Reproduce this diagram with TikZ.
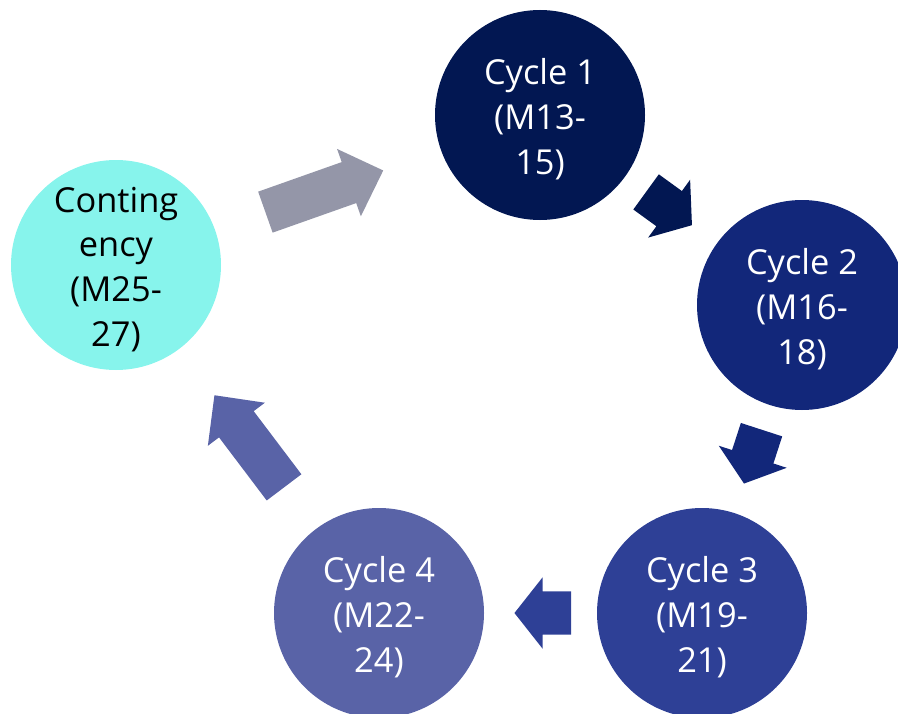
\documentclass[tikz,border=0pt]{standalone}
\usepackage{fontspec}
\setmainfont{Open Sans}
\usetikzlibrary{shapes.arrows}

\definecolor{cycA}{RGB}{2,23,82}
\definecolor{cycB}{RGB}{18,39,122}
\definecolor{cycC}{RGB}{46,64,150}
\definecolor{cycD}{RGB}{89,99,167}
\definecolor{contcol}{RGB}{135,244,236}
\definecolor{arrgray}{RGB}{148,150,168}

\begin{document}
\begin{tikzpicture}[
  x=0.75pt, y=-0.75pt,
  phase/.style={circle, minimum size=157.5pt, inner sep=0pt, outer sep=0pt},
  phasetext/.style={align=center, inner sep=0pt, yshift=-3.2pt, font=\fontsize{25.8pt}{33.5pt}\selectfont},
  blockarrow/.style={single arrow, sloped, allow upside down, anchor=tail, inner xsep=0pt, inner ysep=16.1pt,
    outer sep=0pt, minimum width=53.25pt, single arrow head extend=10.5pt, single arrow head indent=0pt},
  shortarrow/.style={blockarrow, minimum height=42.5pt, single arrow tip angle=103.5},
  longarrow/.style={blockarrow, single arrow tip angle=89}
]
  \useasboundingbox (0,0) rectangle (898,713);

  % the five phases
  \node[phase, fill=cycA] (c1) at (540,115) {};
  \node[phase, fill=cycB] (c2) at (802,305) {};
  \node[phase, fill=cycC] (c3) at (702,613) {};
  \node[phase, fill=cycD] (c4) at (379,613) {};
  \node[phase, fill=contcol] (cont) at (116,265) {};

  \node[phasetext, text=white] (t1) at (c1) {Cycle 1\\(M13-\\15)};
  \node[phasetext, text=white] (t2) at (c2) {Cycle 2\\(M16-\\18)};
  \node[phasetext, text=white] (t3) at (c3) {Cycle 3\\(M19-\\21)};
  \node[phasetext, text=white] (t4) at (c4) {Cycle 4\\(M22-\\24)};
  \node[phasetext, text=black] (tc) at (cont) {Conting\\ency\\(M25-\\27)};

  % block arrows between the phases
  \path (c1) -- node[shortarrow, pos=0.229, fill=cycA] (a12) {} (c2);
  \path (c2) -- node[shortarrow, pos=0.229, fill=cycB] (a23) {} (c3);
  \path (c3) -- node[shortarrow, pos=0.229, fill=cycC] (a34) {} (c4);
  \path (c4) -- node[longarrow, pos=0.232, minimum height=86.6pt, fill=cycD] (a4c) {} (cont);
  \path (cont) -- node[longarrow, pos=0.223, minimum height=93.75pt, fill=arrgray] (ac1) {} (c1);
\end{tikzpicture}
\end{document}
